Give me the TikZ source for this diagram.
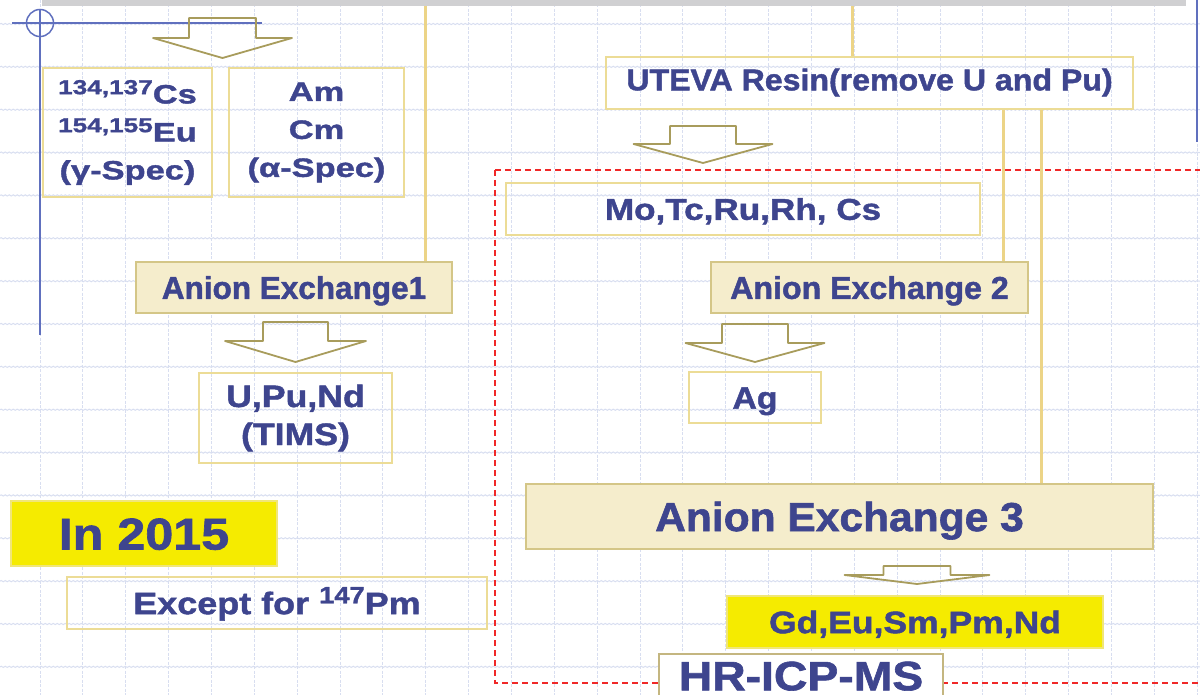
\documentclass[tikz,border=0pt]{standalone}
\usepackage{fontspec}
\setmainfont{Liberation Sans}
\newfontfamily\heavy{Liberation Sans Bold}[FakeBold=1.5]
\usetikzlibrary{decorations.pathmorphing}

\definecolor{inkblue}{RGB}{62,69,142}
\definecolor{gridblue}{RGB}{216,222,240}
\definecolor{rulerblue}{RGB}{96,112,190}
\definecolor{barsilver}{RGB}{208,208,210}
\definecolor{feedgold}{RGB}{236,212,135}
\definecolor{boxgold}{RGB}{236,220,150}
\definecolor{cream}{RGB}{245,237,204}
\definecolor{lemon}{RGB}{245,235,0}
\definecolor{lemonedge}{RGB}{240,230,120}
\definecolor{arrowolive}{RGB}{168,156,92}
\definecolor{frametan}{RGB}{196,182,128}
\definecolor{cutred}{RGB}{240,40,40}

% size, stretch, baselineskip
\newcommand\lbl[3]{\fontsize{#1}{#3}\selectfont\heavy\addfontfeature{FakeStretch=#2}}
% mass number in front of an element
\newcommand\mass[1]{\raisebox{.35em}{\scalebox{.76}{#1}}}

\tikzset{
  box/.style={draw=boxgold, line width=1.2pt, inner sep=0pt, text=inkblue, align=center},
  stage/.style={box, fill=cream, draw=boxgold!90!black},
  flag/.style={box, fill=lemon, draw=lemonedge},
  caps/.style 2 args={font=\lbl{#1}{#2}{#1}, text height={0.72*#1}, text depth=0pt},
  lines/.style n args={3}{font=\lbl{#1}{#2}{#3}},
  feed/.style={draw=feedgold, line width=3pt},
  gridv/.style={gridblue, line width=1pt, dash pattern=on 3pt off 1.5pt},
  gridh/.style={gridblue, line width=1pt, decorate,
    decoration={snake, amplitude=.6pt, segment length=4pt}},
  pics/chute/.style n args={4}{code={
    \draw[arrowolive, line width=1.8pt, line join=round]
      (-#1,0) -- (#1,0) -- (#1,#3) -- (#2,#3) -- (0,#4) -- (-#2,#3) -- (-#1,#3) -- cycle;
  }}
}

\begin{document}
\begin{tikzpicture}[x=1pt, y=-1pt]
  \useasboundingbox (0,0) rectangle (1200,695);
  \clip (0,0) rectangle (1200,695);

  % grid paper
  \foreach \k in {0,...,27}
    \draw[gridv] ({40+42.857*\k},0) -- ++(0,695);
  \foreach \k in {0,...,15}
    \draw[gridh] (0,{24+42.857*\k}) -- ++(1200,0);

  % title bar and ruler marks
  \fill[barsilver] (42,0) rectangle (1186,6);
  \draw[rulerblue, line width=2pt] (12,23) -- (262,23);
  \draw[rulerblue, line width=2pt] (40,9) -- (40,335);
  \draw[rulerblue, line width=1.5pt] (40,23) circle[radius=13.5];
  \draw[rulerblue, line width=2.5pt] (1197,0) -- (1197,142);

  % HR-ICP-MS fractions
  \draw[cutred, line width=1.3pt, dash pattern=on 6pt off 4pt] (495,170) rectangle (1220,683);

  % left branch
  \node[box, lines={26.5}{1.3}{38}, minimum width=169, minimum height=129] (cs) at (127.5,132.5)
    {\mass{134,137}Cs\\\mass{154,155}Eu\\(γ-Spec)};
  \node[box, lines={26.5}{1.3}{38}, minimum width=175, minimum height=129] (am) at (316.5,132.5)
    {Am\\Cm\\(α-Spec)};
  \node[stage, caps={31.5}{1.0}, minimum width=316, minimum height=51] (ae1) at (294,287.5)
    {Anion Exchange1};
  \node[box, lines={31}{1.15}{38}, minimum width=193, minimum height=90] (upnd) at (295.5,418)
    {U,Pu,Nd\\(TIMS)};

  % right branch
  \node[box, caps={30}{1.07}, text depth=7pt, minimum width=527, minimum height=52] (uteva) at (869.5,83)
    {UTEVA Resin(remove U and Pu)};
  \node[box, caps={30}{1.17}, minimum width=474, minimum height=52] (mo) at (743,209)
    {Mo,Tc,Ru,Rh, Cs};
  \node[stage, caps={31.5}{1.02}, minimum width=317, minimum height=51] (ae2) at (869.5,287.5)
    {Anion Exchange 2};
  \node[box, caps={31}{1.09}, minimum width=132, minimum height=51] (ag) at (755,397.5)
    {Ag};
  \node[stage, caps={40.5}{1.05}, minimum width=627, minimum height=65] (ae3) at (839.5,516.5)
    {Anion Exchange 3};
  \node[flag, caps={31}{1.145}, minimum width=376, minimum height=52] (gd) at (915,622)
    {Gd,Eu,Sm,Pm,Nd};
  \node[box, fill=white, draw=frametan, line width=2.5pt, caps={41}{1.13},
    minimum width=284, minimum height=43] (hr) at (801,675.5) {HR-ICP-MS};

  % notes
  \node[flag, caps={44.5}{1.13}, minimum width=266, minimum height=65] (yr) at (144,533.5)
    {In 2015};
  \node[box, caps={31}{1.16}, minimum width=420, minimum height=52] (except) at (277,603)
    {Except for \mass{147}Pm};

  % feed lines
  \coordinate (topA) at (425,6);
  \coordinate (topB) at (852,6);
  \coordinate (tapA) at ([xshift=133.5pt]uteva.south);
  \coordinate (tapB) at ([xshift=171.5pt]uteva.south);
  \draw[feed] (topA) -- (topA |- ae1.north);
  \draw[feed] (topB) -- (topB |- uteva.north);
  \draw[feed] (tapA) -- (tapA |- ae2.north);
  \draw[feed] (tapB) -- (tapB |- ae3.north);

  % block arrows
  \pic at (222.5,18) {chute={33.5}{69.5}{20}{40}};
  \pic at (703,126) {chute={33}{69.5}{18}{37}};
  \pic at (295.5,322) {chute={32.5}{70.5}{19}{40}};
  \pic at (755,324) {chute={33}{69.5}{19}{38}};
  \pic at (917,566) {chute={33.5}{72.5}{9}{18}};
\end{tikzpicture}
\end{document}
